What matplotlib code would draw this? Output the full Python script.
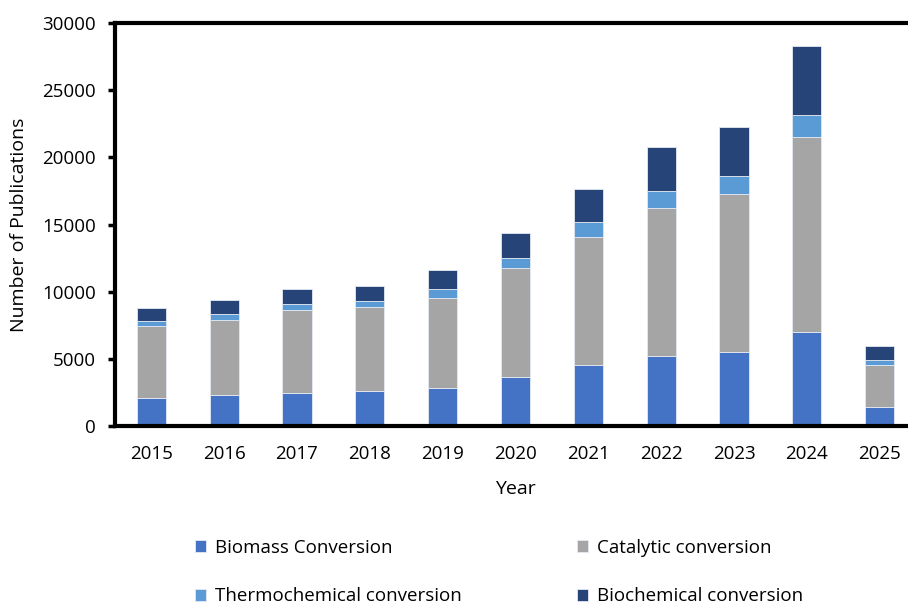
import matplotlib
matplotlib.use("Agg")
import matplotlib.pyplot as plt
import numpy as np

plt.rcParams["font.family"] = ["Open Sans", "DejaVu Sans"]

years = ["2015", "2016", "2017", "2018", "2019", "2020", "2021", "2022", "2023", "2024", "2025"]
biomass = [2100, 2330, 2460, 2630, 2850, 3630, 4540, 5210, 5480, 6980, 1415]
catalytic = [5350, 5540, 6180, 6210, 6700, 8110, 9555, 11000, 11810, 14565, 3150]
thermochemical = [350, 450, 425, 490, 625, 745, 1095, 1265, 1320, 1590, 350]
biochemical = [950, 1040, 1120, 1120, 1415, 1905, 2435, 3320, 3625, 5185, 1065]

series = [
    ("Biomass Conversion", biomass, "#4472C4"),
    ("Catalytic conversion", catalytic, "#A5A5A5"),
    ("Thermochemical conversion", thermochemical, "#5B9BD5"),
    ("Biochemical conversion", biochemical, "#264478"),
]

fig = plt.figure(figsize=(9.08, 6.04), dpi=100)
ax = fig.add_axes([115 / 908, 1 - 426 / 604, 801 / 908, 403 / 604])

x = np.arange(len(years))
bottom = np.zeros(len(years))
handles = {}
for name, vals, color in series:
    vals = np.array(vals, dtype=float)
    b = ax.bar(x, vals, 0.4, bottom=bottom, color=color, edgecolor="#e4e9f2",
               linewidth=0.6, label=name, zorder=2)
    handles[name] = b
    bottom += vals

ax.set_xlim(-0.5, 10.5)
ax.set_ylim(0, 30000)
ax.set_yticks(range(0, 30001, 5000))
ax.set_xticks(x)
ax.set_xticklabels(years)
ax.tick_params(axis="y", direction="out", length=5, width=2.5, labelsize=13.5, pad=9)
ax.tick_params(axis="x", length=0, labelsize=13.5, pad=14)
for sp in ax.spines.values():
    sp.set_linewidth(3)
ax.set_xlabel("Year", fontsize=14, labelpad=12)
ax.set_ylabel("Number of Publications", fontsize=14, labelpad=10)

order = ["Biomass Conversion", "Thermochemical conversion",
         "Catalytic conversion", "Biochemical conversion"]
fig.legend([handles[n] for n in order], order, ncol=2, frameon=False,
           loc="center", bbox_to_anchor=(499 / 908, 1 - 572 / 604),
           fontsize=13.5, handlelength=0.6, handleheight=0.6, handletextpad=0.45,
           labelspacing=1.65, columnspacing=6.15)

fig.savefig("out.png", dpi=100)
